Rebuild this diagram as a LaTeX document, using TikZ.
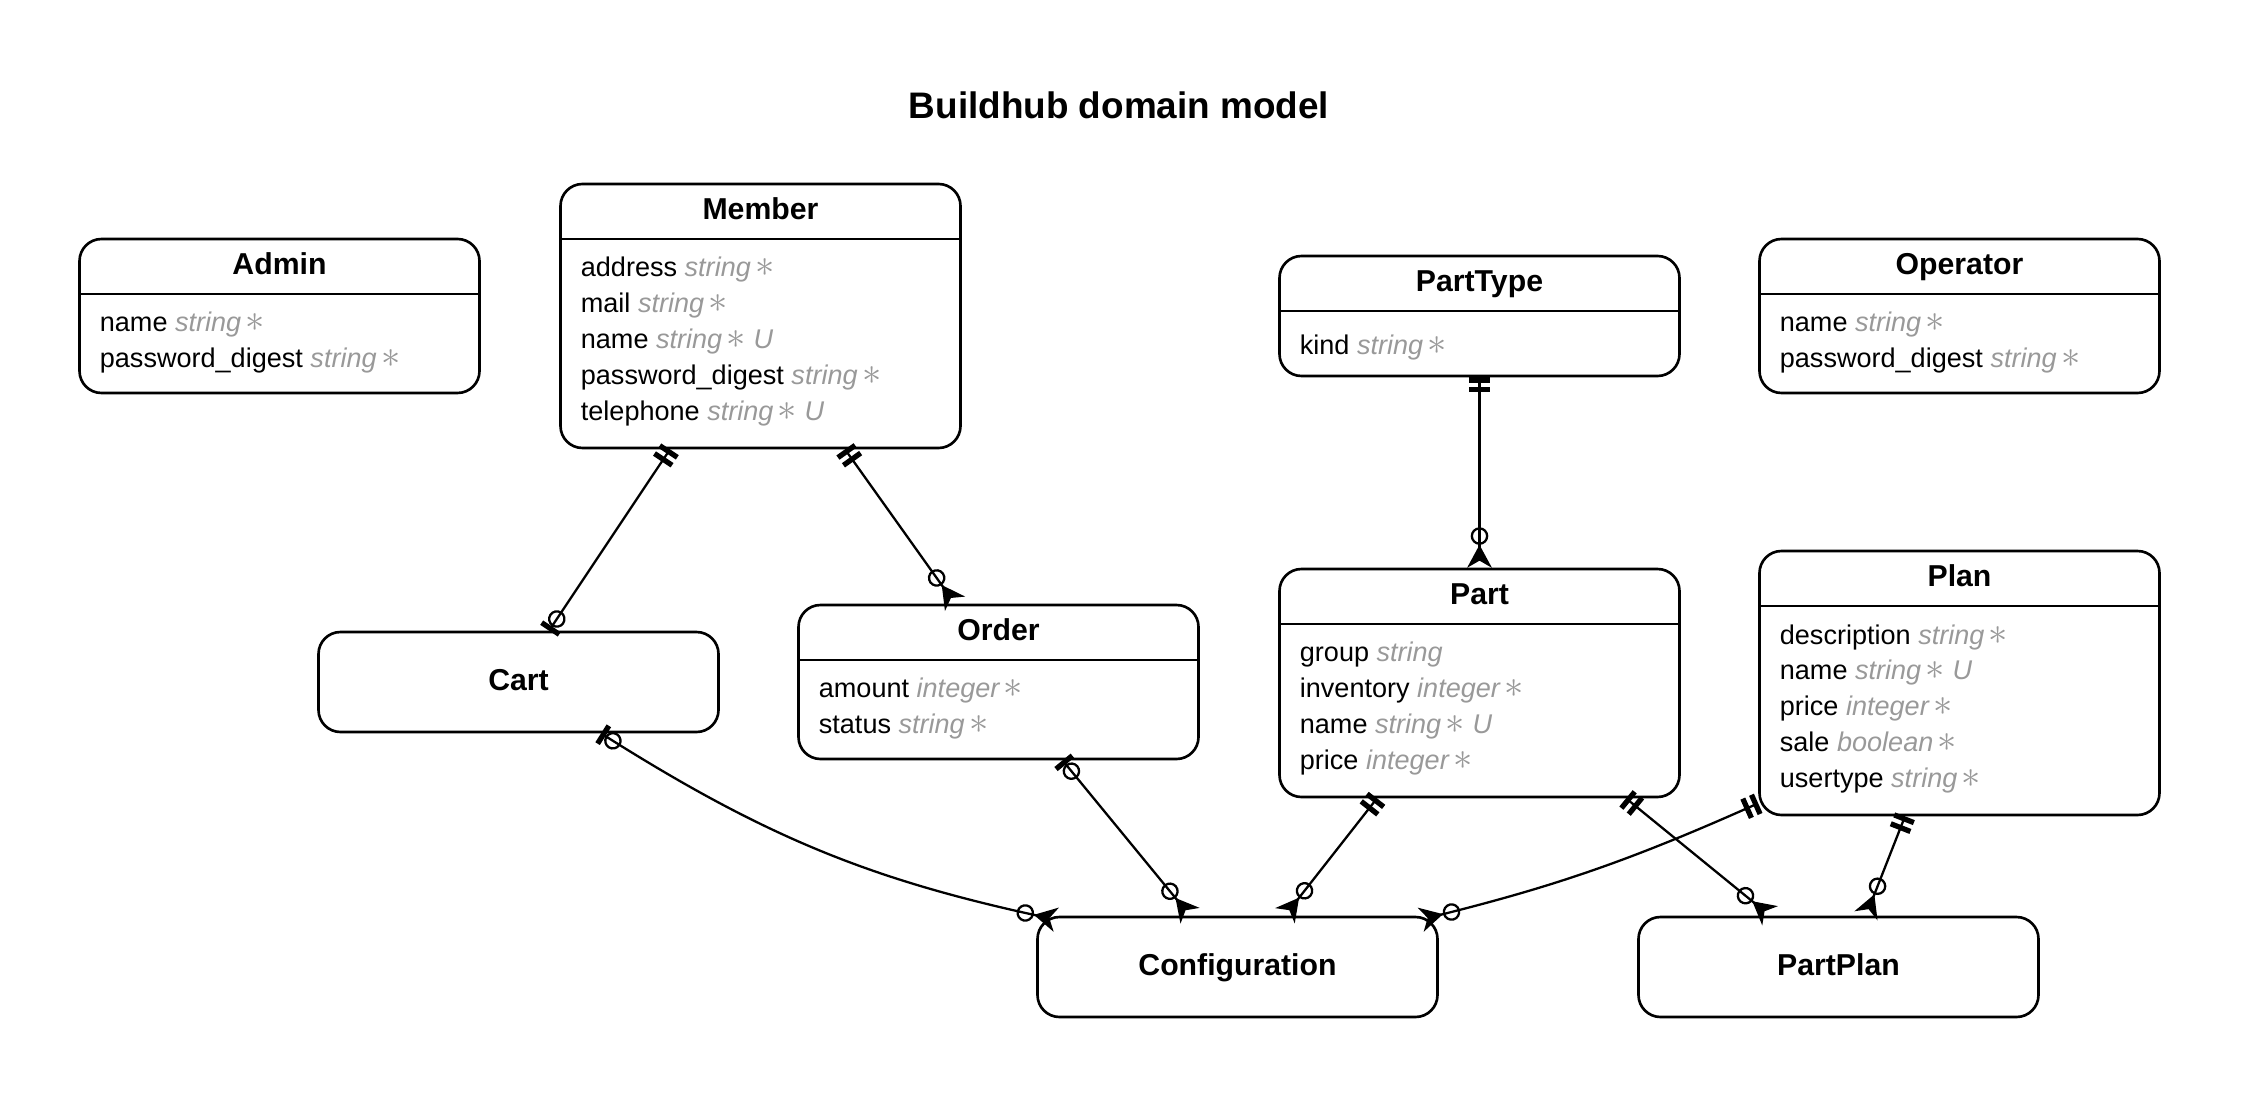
\documentclass[tikz,border=0pt]{standalone}
\usepackage{fontspec}
\setmainfont{Liberation Sans}
\usetikzlibrary{arrows.meta,positioning}
\definecolor{attrgrey}{HTML}{999999}
\newcommand{\atype}[1]{{\color{attrgrey}\itshape #1}}
\newcommand{\req}{{\color{attrgrey}\,\smash{\fontsize{10.8pt}{10pt}\selectfont$\ast$}}}
\newcommand{\uniq}{{\color{attrgrey}\itshape\ U}}
\tikzset{entity/.style={draw,rounded corners=0.22cm,line width=0.75pt,minimum width=4cm,inner sep=0pt},
         table/.style={entity,path picture={\draw[line width=0.75pt] ([yshift=-0.55cm]path picture bounding box.north west) -- ([yshift=-0.55cm]path picture bounding box.north east);}},
         ehead/.style={font=\fontsize{8.6pt}{10pt}\selectfont\bfseries,anchor=base,inner sep=0pt},
         attrs/.style={font=\fontsize{7.7pt}{10.24pt}\selectfont,align=left,anchor=north west,inner sep=0pt,execute at begin node=\strut},
         title/.style={font=\fontsize{10.5pt}{12pt}\selectfont\bfseries,anchor=base,inner sep=0pt},
         rel/.style={line width=0.65pt},
         onlyone/.tip={Bar[width=6pt,line width=1.5pt,sep=1.2pt] Bar[width=6pt,line width=1.5pt]},
         zeroone/.tip={Circle[open,length=5pt,width=5pt] Bar[width=6pt,line width=1.5pt]},
         zeromany/.tip={Circle[open,length=5pt,width=5pt] Stealth[reversed,length=6.5pt,width=7pt,inset=2pt]}
}
\begin{document}
\begin{tikzpicture}
    \useasboundingbox (0,0) rectangle (22.42,-11);

    \node[title] (title) at (11.19,-1.19) {Buildhub domain model};

    % top row
    \node[table,minimum height=1.54cm] (admin) at (2.795,-3.16) {};
    \node[ehead] (admin-h) at ([yshift=-0.37cm]admin.north) {Admin};
    \node[attrs] (admin-a) at ([xshift=0.21cm,yshift=-0.74cm]admin.north west)
        {name \atype{string}\req\\password\_digest \atype{string}\req};

    \node[table,minimum height=2.64cm] (member) at (7.605,-3.16) {};
    \node[ehead] (member-h) at ([yshift=-0.37cm]member.north) {Member};
    \node[attrs] (member-a) at ([xshift=0.21cm,yshift=-0.74cm]member.north west)
        {address \atype{string}\req\\mail \atype{string}\req\\name \atype{string}\req\uniq\\password\_digest \atype{string}\req\\telephone \atype{string}\req\uniq};

    \node[table,minimum height=1.2cm] (parttype) at (14.795,-3.16) {};
    \node[ehead] (parttype-h) at ([yshift=-0.37cm]parttype.north) {PartType};
    \node[attrs] (parttype-a) at ([xshift=0.21cm,yshift=-0.74cm]parttype.north west)
        {kind \atype{string}\req};

    \node[table,minimum height=1.54cm] (operator) at (19.595,-3.16) {};
    \node[ehead] (operator-h) at ([yshift=-0.37cm]operator.north) {Operator};
    \node[attrs] (operator-a) at ([xshift=0.21cm,yshift=-0.74cm]operator.north west)
        {name \atype{string}\req\\password\_digest \atype{string}\req};

    % middle row
    \node[entity,minimum height=1cm] (cart) at (5.185,-6.82) {};
    \node[ehead] (cart-h) at ([yshift=-0.08cm]cart.center) {Cart};

    \node[table,minimum height=1.54cm] (order) at (9.985,-6.82) {};
    \node[ehead] (order-h) at ([yshift=-0.37cm]order.north) {Order};
    \node[attrs] (order-a) at ([xshift=0.21cm,yshift=-0.74cm]order.north west)
        {amount \atype{integer}\req\\status \atype{string}\req};

    \node[table,minimum height=2.28cm] (part) at (14.795,-6.83) {};
    \node[ehead] (part-h) at ([yshift=-0.37cm]part.north) {Part};
    \node[attrs] (part-a) at ([xshift=0.21cm,yshift=-0.74cm]part.north west)
        {group \atype{string}\\inventory \atype{integer}\req\\name \atype{string}\req\uniq\\price \atype{integer}\req};

    \node[table,minimum height=2.64cm] (plan) at (19.595,-6.83) {};
    \node[ehead] (plan-h) at ([yshift=-0.37cm]plan.north) {Plan};
    \node[attrs] (plan-a) at ([xshift=0.21cm,yshift=-0.74cm]plan.north west)
        {description \atype{string}\req\\name \atype{string}\req\uniq\\price \atype{integer}\req\\sale \atype{boolean}\req\\usertype \atype{string}\req};

    % bottom row
    \node[entity,minimum height=1cm] (config) at (12.375,-9.67) {};
    \node[ehead] (config-h) at ([yshift=-0.08cm]config.center) {Configuration};

    \node[entity,minimum height=1cm] (partplan) at (18.385,-9.67) {};
    \node[ehead] (partplan-h) at ([yshift=-0.08cm]partplan.center) {PartPlan};

    % relations
    \draw[rel,{onlyone}-{zeroone}] ([xshift=-0.905cm]member.south) -- ([xshift=0.305cm]cart.north);
    \draw[rel,{onlyone}-{zeromany}] ([xshift=0.845cm]member.south) -- ([xshift=-0.435cm]order.north);
    \draw[rel,{onlyone}-{zeromany}] (parttype.south) -- (part.north);
    \draw[rel,{zeroone}-{zeromany}] ([xshift=0.825cm]cart.south) to[bend right=10] ([xshift=0.2cm,yshift=-0.04cm]config.north west);
    \draw[rel,{zeroone}-{zeromany}] ([xshift=0.64cm]order.south) -- ([xshift=-0.475cm]config.north);
    \draw[rel,{onlyone}-{zeromany}] ([xshift=-1.025cm]part.south) -- ([xshift=0.475cm]config.north);
    \draw[rel,{onlyone}-{zeromany}] ([yshift=0.13cm]plan.south west) to[bend left=5] ([xshift=-0.18cm,yshift=-0.04cm]config.north east);
    \draw[rel,{onlyone}-{zeromany}] ([xshift=1.465cm]part.south) -- ([xshift=-0.685cm]partplan.north);
    \draw[rel,{onlyone}-{zeromany}] ([xshift=-0.545cm]plan.south) -- ([xshift=0.275cm]partplan.north);

\end{tikzpicture}
\end{document}
